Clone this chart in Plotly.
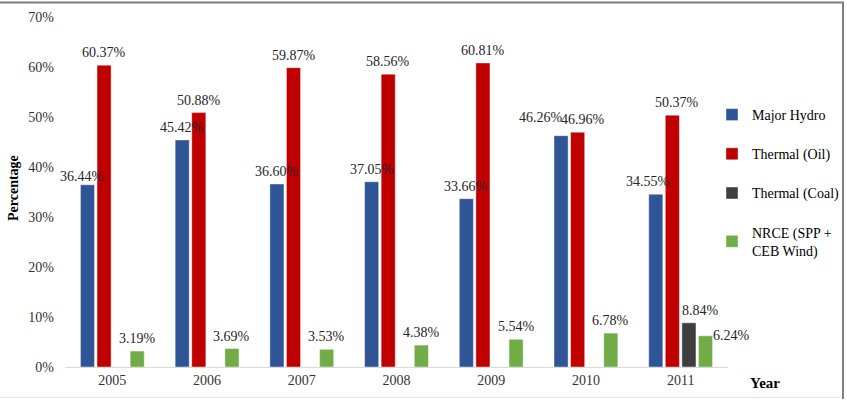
import plotly.graph_objects as go

years = ["2005", "2006", "2007", "2008", "2009", "2010", "2011"]
major_hydro = [36.44, 45.42, 36.60, 37.05, 33.66, 46.26, 34.55]
thermal_oil = [60.37, 50.88, 59.87, 58.56, 60.81, 46.96, 50.37]
thermal_coal = [None, None, None, None, None, None, 8.84]
nrce = [3.19, 3.69, 3.53, 4.38, 5.54, 6.78, 6.24]

series = [
    ("Major Hydro", major_hydro, "#2F5597"),
    ("Thermal (Oil)", thermal_oil, "#C00000"),
    ("Thermal (Coal)", thermal_coal, "#3F3F3F"),
    ("NRCE (SPP +<br>CEB Wind)", nrce, "#70AD47"),
]

W, H = 847, 404
L, R, T, B = 65, 728, 17, 367  # plot area in pixels

def px(x):
    return (x - L) / (R - L)

def py(y):
    return (B - y) / (B - T)

FONT = "Liberation Serif, Times New Roman, serif"
fig = go.Figure()
for i, (name, vals, col) in enumerate(series):
    fig.add_trace(go.Bar(
        x=years, y=[None if v is None else v / 100 for v in vals],
        name=name, marker=dict(color=col, line=dict(color="rgba(255,255,255,0.7)", width=0.6)),
        legendgroup=str(i), hoverinfo="skip",
    ))

# data labels
cat_w = (R - L) / len(years)
slot = cat_w * (1 - 0.3) / 4
extra = {(0, 0): (-5, -4), (0, 5): (-20, 6), (1, 5): (5, 0), (0, 6): (-8, 0),
         (1, 6): (5, 0), (2, 6): (12, 0), (3, 6): (26, -12)}
annotations = []
for i, (name, vals, col) in enumerate(series):
    for j, v in enumerate(vals):
        if v is None:
            continue
        dx, dy = extra.get((i, j), (0, 0))
        annotations.append(dict(
            x=j, y=v / 100, xref="x", yref="y", text=f"{v:.2f}%",
            showarrow=False, yanchor="bottom", xanchor="center",
            xshift=(i - 1.5) * slot + dx, yshift=3 + dy,
            font=dict(family=FONT, size=14, color="#262626"),
        ))

annotations.append(dict(x=px(765), y=py(383), xref="paper", yref="paper", text="<b>Year</b>",
                        xanchor="center", yanchor="middle",
                        showarrow=False, font=dict(family=FONT, size=15, color="#000000")))
annotations.append(dict(x=px(13), y=py(188), xref="paper", yref="paper", text="<b>Percentage</b>",
                        xanchor="center", yanchor="middle",
                        textangle=-90, showarrow=False,
                        font=dict(family=FONT, size=14, color="#000000")))

shapes = [
    dict(type="line", xref="paper", yref="paper", x0=px(0), x1=px(844), y0=py(2.5), y1=py(2.5),
         line=dict(color="#7F7F7F", width=2)),
    dict(type="line", xref="paper", yref="paper", x0=px(843), x1=px(843), y0=py(2), y1=py(399),
         line=dict(color="#7F7F7F", width=2)),
    dict(type="line", xref="paper", yref="paper", x0=px(0), x1=px(842), y0=py(397.5), y1=py(397.5),
         line=dict(color="#E6E6E6", width=1)),
]

fig.update_layout(
    width=W, height=H,
    margin=dict(l=L, r=W - R, t=T, b=H - B, pad=0, autoexpand=False),
    paper_bgcolor="white", plot_bgcolor="white",
    barmode="group", bargap=0.3, bargroupgap=0.15,
    font=dict(family=FONT, size=14, color="#333333"),
    showlegend=True,
    legend=dict(xref="container", yref="container", x=712 / W, y=(H - 99) / H,
                xanchor="left", yanchor="top",
                font=dict(family=FONT, size=14, color="#000000"),
                tracegroupgap=18, itemwidth=30, bgcolor="rgba(0,0,0,0)"),
    annotations=annotations, shapes=shapes,
    xaxis=dict(type="category", range=[-0.5, len(years) - 0.5], autorange=False,
               showline=True, linecolor="#D9D9D9", linewidth=1, ticks="",
               showgrid=False, tickfont=dict(family=FONT, size=14, color="#333333"),
               fixedrange=True, automargin=False),
    yaxis=dict(range=[0, 0.7], autorange=False, tickvals=[0, 0.1, 0.2, 0.3, 0.4, 0.5, 0.6, 0.7],
               tickformat=".0%", showgrid=False, zeroline=False, showline=False,
               ticklabelstandoff=10, automargin=False,
               tickfont=dict(family=FONT, size=14, color="#333333"), fixedrange=True),
)

fig.write_html("out.html")
